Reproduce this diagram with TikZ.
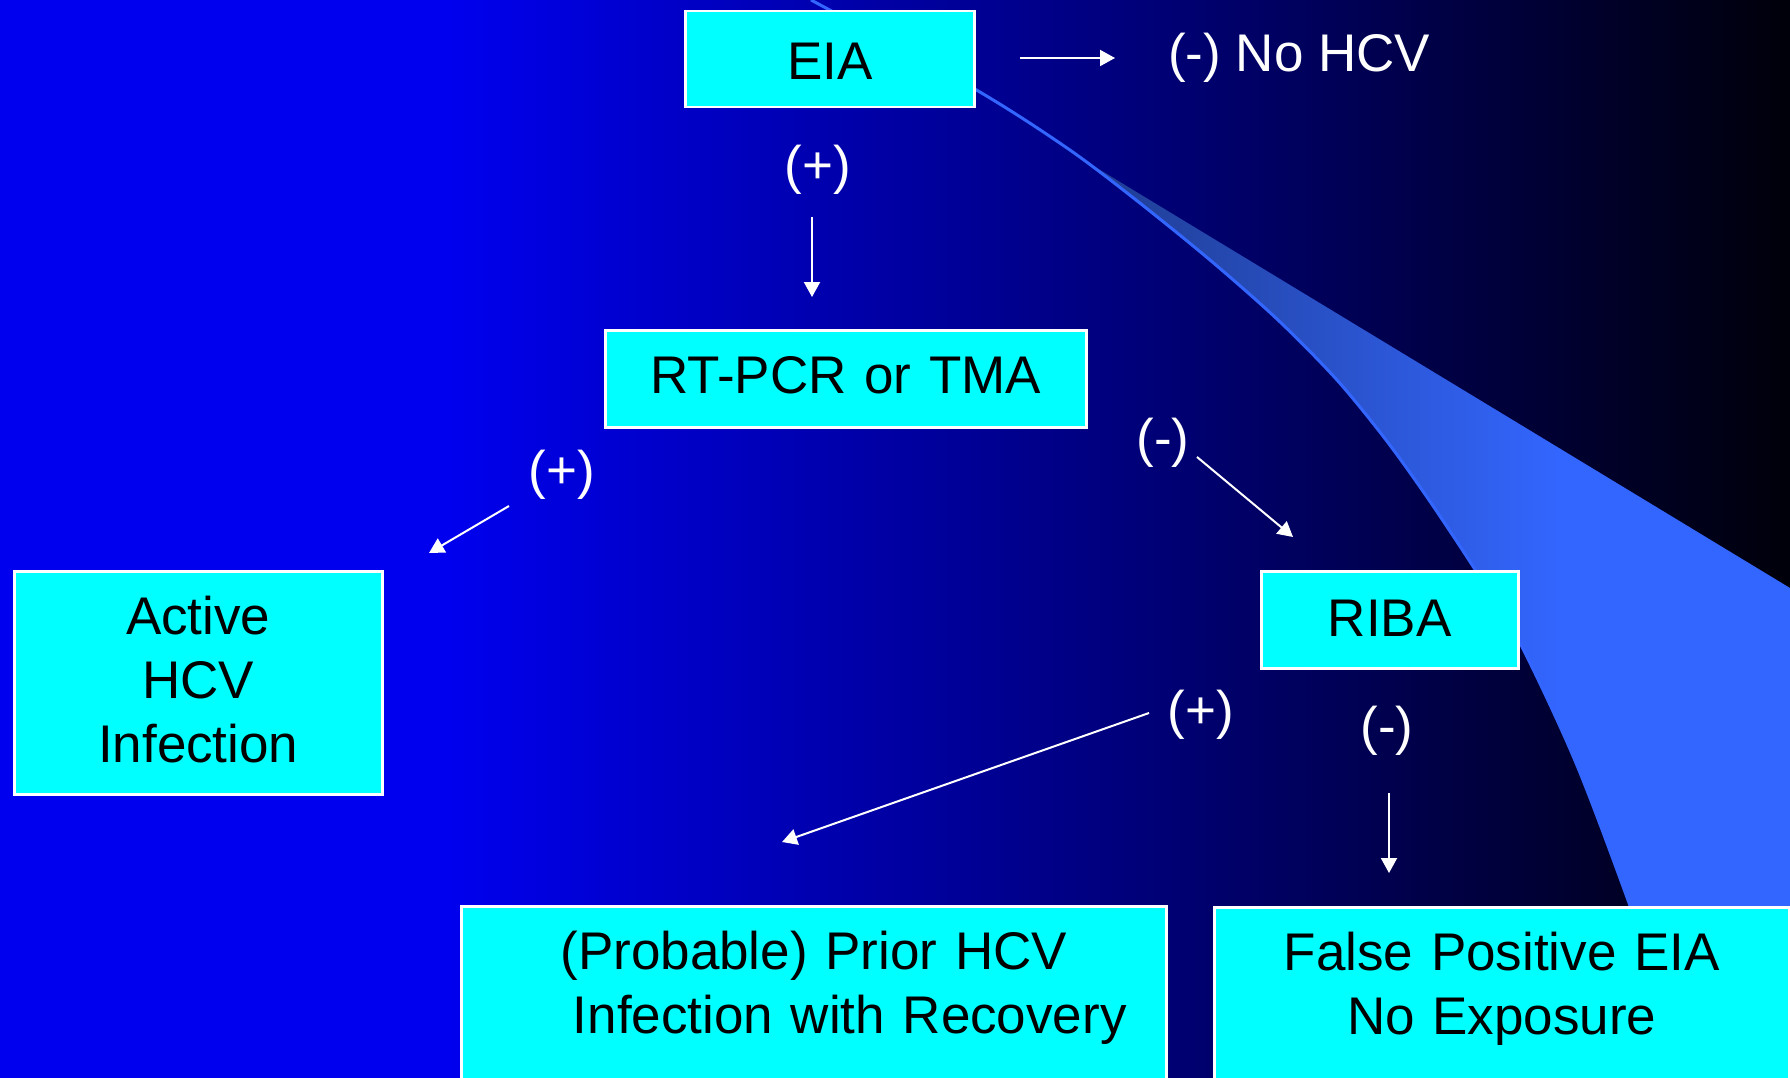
\documentclass[tikz,border=0pt]{standalone}
\usepackage{fontspec}
\setmainfont{Liberation Sans}
\usetikzlibrary{arrows.meta}
\definecolor{bgL}{RGB}{0,0,238}
\definecolor{bgR}{RGB}{0,0,10}
\definecolor{swA}{RGB}{30,58,138}
\definecolor{swB}{RGB}{51,102,255}
\definecolor{boxcyan}{RGB}{0,255,255}
\begin{document}
\begin{tikzpicture}[x=1pt,y=-1pt,
  box/.style={draw=white, line width=2.5pt, fill=boxcyan, inner sep=0pt, align=center,
    font=\fontsize{53}{64}\selectfont, text=black, anchor=north west},
  lbl/.style={text=white, inner sep=0pt, anchor=base, font=\fontsize{53}{64}\selectfont},
  arr/.style={draw=white, line width=2pt, -{Triangle[length=15pt,width=16pt]}}]
\useasboundingbox (0,0) rectangle (1790,1078);
\clip (0,0) rectangle (1790,1078);
% background
\fill[bgL] (0,0) rectangle (451,1078);
\shade[left color=bgL, right color=bgR] (450,0) rectangle (1790,1078);
% swoosh
\begin{scope}
  \clip plot[smooth] coordinates {(811,0) (973,88) (1067,148) (1136,200) (1210,260) (1278,320) (1337,380) (1386,440) (1429,500) (1476,571) (1518,639) (1576,763) (1633,914) (1690,1078)} -- (1790,1078) -- (1790,0) -- cycle;
  \clip (790,-18) -- (1790,588) -- (1790,1078) -- (790,1078) -- cycle;
  \shade[left color=swA, right color=swB] (1062,0) rectangle (1561,1078);
  \fill[swB] (1560,0) rectangle (1790,1078);
\end{scope}
\draw[swB, line width=3pt] plot[smooth] coordinates {(811,0) (973,88) (1067,148) (1136,200) (1210,260) (1278,320) (1337,380) (1386,440) (1429,500) (1476,571) (1518,639) (1576,763) (1633,914) (1690,1078)};
% boxes
\node[box, text width=289pt, text height=68pt, text depth=28pt] (eia) at (684,10) {EIA};
\node[box, text width=481pt, text height=63pt, text depth=34pt] (rt) at (604,329) {RT-PCR or TMA};
\node[box, text width=368pt, text height=63pt, text depth=160pt] (act) at (13,570) {Active\\HCV\\Infection};
\node[box, text width=257pt, text height=65pt, text depth=32pt] (riba) at (1260,570) {RIBA};
\node[box, text width=705pt, text height=63pt, text depth=132pt] (prior) at (460,905) {(Probable) Prior HCV\\\hspace*{72pt}Infection with Recovery};
\node[box, text width=575pt, text height=63pt, text depth=131pt] (fp) at (1213,906) {False Positive EIA\\No Exposure};
% labels
\node[lbl, anchor=base west] (nohcv) at (1168,72) {(-) No HCV};
\node[lbl] (p1) at (818,184) {(+)};
\node[lbl] (m1) at (1163,456) {(-)};
\node[lbl] (p2) at (562,488) {(+)};
\node[lbl] (p3) at (1201,728) {(+)};
\node[lbl] (m2) at (1387,744) {(-)};
% arrows
\coordinate (a1s) at (1020,58);  \coordinate (a1e) at (1115,58);
\coordinate (a2s) at (812,217);  \coordinate (a2e) at (812,297);
\coordinate (a3s) at (509,506);  \coordinate (a3e) at (429,553);
\coordinate (a4s) at (1197,457); \coordinate (a4e) at (1293,537);
\coordinate (a5s) at (1149,713); \coordinate (a5e) at (782,842);
\coordinate (a6s) at (1389,793); \coordinate (a6e) at (1389,873);
\draw[arr] (a1s) -- (a1e);
\draw[arr] (a2s) -- (a2e);
\draw[arr] (a3s) -- (a3e);
\draw[arr] (a4s) -- (a4e);
\draw[arr] (a5s) -- (a5e);
\draw[arr] (a6s) -- (a6e);
\end{tikzpicture}
\end{document}
